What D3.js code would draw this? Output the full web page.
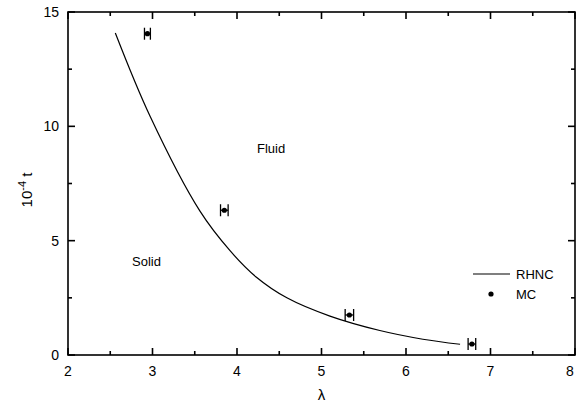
<svg id="svg" width="576" height="406"></svg>
<script src="https://d3js.org/d3.v7.min.js"></script>
<script>
    // RHNC freezing curve
    var rhncLambda = [2.56, 2.97, 3.56, 3.92, 4.23, 4.59, 5.10, 5.69, 6.20, 6.64];
    var rhncT = [14.08, 10.45, 6.3, 4.55, 3.4, 2.5, 1.7, 1.07, 0.69, 0.47];

    // MC points with horizontal error bars
    var mcLambda = [2.94, 3.85, 5.33, 6.78];
    var mcT = [14.05, 6.33, 1.75, 0.48];
    var mcErr = [0.035, 0.045, 0.05, 0.045];

    var xTicks = [2, 3, 4, 5, 6, 7, 8];
    var yTicks = [0, 5, 10, 15];

    var svg = d3.select("#svg");
    var pL = 68, pR = 575, pT = 12, pB = 355;

    var x = d3.scaleLinear().domain([2, 8]).range([pL, pR]);
    var y = d3.scaleLinear().domain([0, 15]).range([pB, pT]);

    var font = "'Liberation Sans', Arial, sans-serif";

    // frame
    svg.append("rect")
        .attr("x", pL).attr("y", pT)
        .attr("width", pR - pL).attr("height", pB - pT)
        .attr("fill", "none").attr("stroke", "#000").attr("stroke-width", 1.6);

    // ticks, all pointing inward, on all four sides
    var xMinor = d3.range(2.5, 8, 1);
    var yMinor = d3.range(2.5, 15, 5);
    var g = svg.append("g").attr("stroke", "#000").attr("stroke-width", 1.6);
    function xt(v, len) {
        g.append("line").attr("x1", x(v)).attr("x2", x(v)).attr("y1", pB).attr("y2", pB - len);
        g.append("line").attr("x1", x(v)).attr("x2", x(v)).attr("y1", pT).attr("y2", pT + len);
    }
    function yt(v, len) {
        g.append("line").attr("y1", y(v)).attr("y2", y(v)).attr("x1", pL).attr("x2", pL + len);
        g.append("line").attr("y1", y(v)).attr("y2", y(v)).attr("x1", pR).attr("x2", pR - len);
    }
    xTicks.forEach(function (v) { xt(v, 7); });
    xMinor.forEach(function (v) { xt(v, 4); });
    yTicks.forEach(function (v) { yt(v, 7); });
    yMinor.forEach(function (v) { yt(v, 4); });

    svg.selectAll(".xl").data(xTicks).enter().append("text")
        .attr("x", function (d) { return Math.min(x(d), 570); })
        .attr("y", 376)
        .attr("text-anchor", "middle")
        .attr("font-family", font).attr("font-size", 14)
        .text(function (d) { return d; });

    svg.selectAll(".yl").data(yTicks).enter().append("text")
        .attr("x", 59)
        .attr("y", function (d) { return y(d) + 5; })
        .attr("text-anchor", "end")
        .attr("font-family", font).attr("font-size", 14)
        .text(function (d) { return d; });

    // axis titles
    svg.append("text")
        .attr("x", (pL + pR) / 2).attr("y", 400)
        .attr("text-anchor", "middle")
        .attr("font-family", font).attr("font-size", 15)
        .text("λ");

    var yl = svg.append("text")
        .attr("transform", "translate(32,190) rotate(-90)")
        .attr("text-anchor", "middle")
        .attr("font-family", font).attr("font-size", 15);
    yl.append("tspan").text("10");
    yl.append("tspan").attr("dy", -6).attr("font-size", 11).text("-4");
    yl.append("tspan").attr("dy", 6).text(" t");

    // RHNC curve
    var rhnc = rhncLambda.map(function (d, i) { return [d, rhncT[i]]; });
    svg.append("path")
        .datum(rhnc)
        .attr("fill", "none").attr("stroke", "#000").attr("stroke-width", 1.2)
        .attr("d", d3.line()
            .x(function (d) { return x(d[0]); })
            .y(function (d) { return y(d[1]); })
            .curve(d3.curveCatmullRom));

    // MC points
    var mc = mcLambda.map(function (d, i) { return { l: d, t: mcT[i], e: mcErr[i] }; });
    var pts = svg.selectAll(".mc").data(mc).enter().append("g")
        .attr("stroke", "#000").attr("stroke-width", 1.3);
    pts.append("line")
        .attr("x1", function (d) { return x(d.l - d.e); })
        .attr("x2", function (d) { return x(d.l + d.e); })
        .attr("y1", function (d) { return y(d.t); })
        .attr("y2", function (d) { return y(d.t); });
    pts.append("line")
        .attr("x1", function (d) { return x(d.l - d.e); })
        .attr("x2", function (d) { return x(d.l - d.e); })
        .attr("y1", function (d) { return y(d.t) - 6; })
        .attr("y2", function (d) { return y(d.t) + 6; });
    pts.append("line")
        .attr("x1", function (d) { return x(d.l + d.e); })
        .attr("x2", function (d) { return x(d.l + d.e); })
        .attr("y1", function (d) { return y(d.t) - 6; })
        .attr("y2", function (d) { return y(d.t) + 6; });
    pts.append("circle")
        .attr("cx", function (d) { return x(d.l); })
        .attr("cy", function (d) { return y(d.t); })
        .attr("r", 2.6).attr("fill", "#000").attr("stroke", "none");

    // region labels
    svg.append("text").attr("x", 257).attr("y", 153)
        .attr("font-family", font).attr("font-size", 13).text("Fluid");
    svg.append("text").attr("x", 132).attr("y", 266)
        .attr("font-family", font).attr("font-size", 13).text("Solid");

    // legend
    svg.append("line").attr("x1", 473).attr("x2", 510).attr("y1", 274).attr("y2", 274)
        .attr("stroke", "#000").attr("stroke-width", 1.2);
    svg.append("text").attr("x", 516).attr("y", 279)
        .attr("font-family", font).attr("font-size", 13).text("RHNC");
    svg.append("circle").attr("cx", 491).attr("cy", 294).attr("r", 2.6).attr("fill", "#000");
    svg.append("text").attr("x", 516).attr("y", 299)
        .attr("font-family", font).attr("font-size", 13).text("MC");
</script>
<style>
    html,
    body {
        margin: 0;
        padding: 0;
        background: #fff;
    }
</style>
